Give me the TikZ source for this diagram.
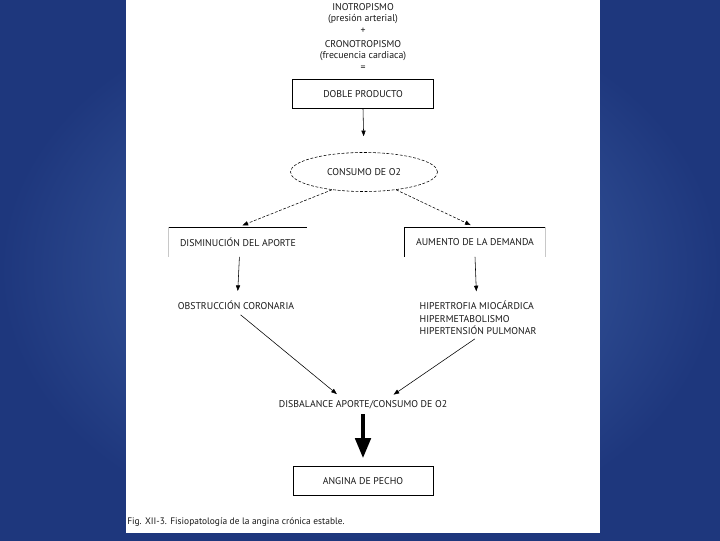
\documentclass[tikz,border=0pt]{standalone}
\usepackage{fontspec}
\setmainfont{PT Sans}
\usetikzlibrary{arrows.meta,shapes.geometric}
\definecolor{slideblue}{RGB}{30,55,125}
\definecolor{slidelight}{RGB}{68,104,172}
\definecolor{sidegray}{RGB}{200,200,200}
\definecolor{inkgray}{RGB}{25,25,25}
\begin{document}
\begin{tikzpicture}[x=0.025cm,y=-0.025cm,
    lbl/.style={inner sep=1pt,text=inkgray,font=\fontsize{7}{9}\selectfont},
    flowbox/.style={lbl,draw,minimum width=3.5cm,minimum height=0.725cm},
    openbox/.style={lbl,minimum width=3.45cm,minimum height=0.73cm},
    fine/.style={dash pattern=on 2pt off 1.2pt},
    arr/.style={-{Triangle[length=4pt,width=3pt]},thin}]
    \useasboundingbox (0,0) rectangle (720,540);
    % background of the slide
    \shade[inner color=slidelight,outer color=slideblue] (0,0) rectangle (720,540);
    \fill[white] (126,0) rectangle (600,533);
    % top formula
    \node[lbl] (ino) at (363,7) {INOTROPISMO};
    \node[lbl] (pre) at (363,19) {(presión arterial)};
    \node[lbl] (plus) at (363,31) {+};
    \node[lbl] (cro) at (363,44) {CRONOTROPISMO};
    \node[lbl] (fre) at (363,56) {(frecuencia cardiaca)};
    \node[lbl] (eq) at (363,68) {=};
    % boxes
    \node[flowbox,minimum width=3.525cm] (dob) at (363,94) {DOBLE PRODUCTO};
    \node[lbl,draw,fine,ellipse,inner sep=0pt,minimum width=3.675cm,minimum height=0.975cm] (con) at (364,172) {CONSUMO DE O2};
    \node[openbox] (dis) at (238,242) {DISMINUCIÓN DEL APORTE};
    \node[openbox,minimum width=3.5cm] (aum) at (475,242) {AUMENTO DE LA DEMANDA};
    \draw (dis.north west) -- (dis.north east);
    \draw[sidegray] (dis.north west) -- (dis.south west);
    \draw (aum.north west) -- (aum.north east);
    \draw (aum.north west) -- (aum.south west);
    \draw[sidegray] (aum.north east) -- (aum.south east);
    \node[lbl] (obs) at (236,305) {OBSTRUCCIÓN CORONARIA};
    \node[lbl,align=left,anchor=west] (hip) at (418,318)
        {HIPERTROFIA MIOCÁRDICA\\HIPERMETABOLISMO\\HIPERTENSIÓN PULMONAR};
    \node[lbl] (disb) at (363,405) {DISBALANCE APORTE/CONSUMO DE O2};
    \node[flowbox] (ang) at (363,481) {ANGINA DE PECHO};
    % arrows
    \draw[arr,shorten >=0.4cm] (dob.south) -- (con.north);
    \draw[arr,fine,shorten >=0.12cm] (con.209) -- (dis.north);
    \draw[arr,fine,shorten >=0.12cm] (con.331) -- (aum.north);
    \draw[arr,shorten >=0.2cm] ([xshift=1pt]dis.south) -- ([xshift=1pt]obs.north);
    \draw[arr,shorten >=0.2cm] (aum.south) -- ([xshift=-1pt]hip.north);
    \draw[arr,shorten <=0.15cm,shorten >=0.2cm] (obs.south) -- ([xshift=-0.5cm]disb.north);
    \draw[arr,shorten <=0.1cm,shorten >=0.2cm] (hip.south) -- ([xshift=0.6cm]disb.north);
    \draw[line width=0.1cm,-{Triangle[length=0.5cm,width=0.38cm]},shorten <=0.08cm,shorten >=0.2cm] (disb.south) -- (ang.north);
    % caption
    \node[lbl,anchor=west,inner sep=0pt,font=\fontsize{6.7}{8}\selectfont] (cap) at (127,522)
        {Fig. XII-3. Fisiopatología de la angina crónica estable.};
\end{tikzpicture}
\end{document}
